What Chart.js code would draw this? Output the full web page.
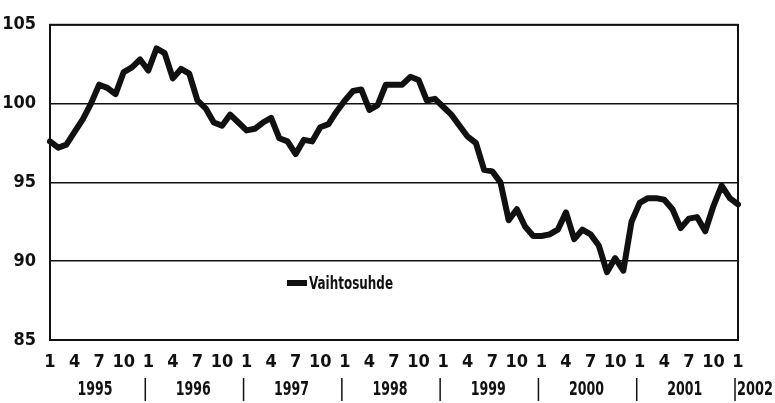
<!DOCTYPE html>
<html><head><meta charset="utf-8">
<script src="https://cdn.jsdelivr.net/npm/chart.js@4"></script>
<style>html,body{margin:0;padding:0;background:#fff}#wrap{width:775px;height:403px}</style>
</head><body><div id="wrap"><canvas id="c" width="775" height="403"></canvas></div>
<script>
// ---- data ----
const years = [1995, 1996, 1997, 1998, 1999, 2000, 2001, 2002];
const shownMonths = [1, 4, 7, 10];
const seriesName = 'Vaihtosuhde';
const yMin = 85, yMax = 105, yStep = 5;
const values = [
  97.6, 97.2, 97.4, 98.2, 99.0, 100.0, 101.2, 101.0, 100.6, 102.0, 102.3, 102.8,
  102.1, 103.5, 103.2, 101.6, 102.2, 101.9, 100.2, 99.7, 98.8, 98.6, 99.3, 98.8,
  98.3, 98.4, 98.8, 99.1, 97.8, 97.6, 96.8, 97.7, 97.6, 98.5, 98.7, 99.5,
  100.2, 100.8, 100.9, 99.6, 99.9, 101.2, 101.2, 101.2, 101.7, 101.5, 100.2, 100.3,
  99.8, 99.3, 98.6, 97.9, 97.5, 95.8, 95.7, 95.0, 92.6, 93.3, 92.2, 91.6,
  91.6, 91.7, 92.0, 93.1, 91.4, 92.0, 91.7, 91.0, 89.3, 90.2, 89.4, 92.5,
  93.7, 94.0, 94.0, 93.9, 93.3, 92.1, 92.7, 92.8, 91.9, 93.5, 94.8, 94.0,
  93.6
];

// categories: every month from Jan 1995 to Jan 2002
const categories = [];
years.forEach(y => {
  for (let m = 1; m <= 12; m++) {
    if (y === years[years.length - 1] && m > 1) break;
    categories.push({ year: y, month: m });
  }
});

const FONT = "'Liberation Sans Narrow','DejaVu Sans Condensed','Arial Narrow',sans-serif";
const INK = '#111';

const frameAndYears = {
  id: 'frameAndYears',
  afterDraw(chart) {
    const { ctx, chartArea: a, scales: { x } } = chart;
    ctx.save();
    ctx.strokeStyle = INK;
    ctx.lineWidth = 2;
    ctx.strokeRect(a.left, a.top, a.right - a.left, a.bottom - a.top);

    // year row
    ctx.fillStyle = INK;
    ctx.font = 'bold 20px ' + FONT;
    ctx.textBaseline = 'middle';
    const yRow = 390;
    years.forEach((yr, k) => {
      const startIdx = k * 12;
      if (k < years.length - 1) {
        ctx.textAlign = 'center';
        ctx.fillText(String(yr), x.getPixelForValue(startIdx + 5.5), yRow, 35);
      } else {
        ctx.textAlign = 'left';
        ctx.fillText(String(yr), x.getPixelForValue(startIdx) - 1, yRow, 36);
      }
      if (k > 0) {
        const px = x.getPixelForValue(startIdx) - 3;
        ctx.lineWidth = 1.5;
        ctx.beginPath();
        ctx.moveTo(px, 378);
        ctx.lineTo(px, 401);
        ctx.stroke();
      }
    });

    // legend inside plot
    const lx = 287, ly = 283;
    ctx.lineWidth = 6;
    ctx.beginPath();
    ctx.moveTo(lx, ly);
    ctx.lineTo(lx + 20, ly);
    ctx.stroke();
    ctx.font = 'bold 18px ' + FONT;
    ctx.textAlign = 'left';
    ctx.fillText(seriesName, lx + 22, ly + 1, 84);
    ctx.restore();
  }
};

new Chart(document.getElementById('c'), {
  type: 'line',
  data: {
    labels: categories.map(c => c.month),
    datasets: [{
      label: seriesName,
      data: values,
      borderColor: INK,
      borderWidth: 6,
      borderJoinStyle: 'round',
      borderCapStyle: 'round',
      pointRadius: 0,
      tension: 0,
      fill: false
    }]
  },
  options: {
    responsive: false,
    animation: false,
    devicePixelRatio: 1,
    layout: { padding: { top: 20, right: 37, bottom: 0, left: 0 } },
    plugins: { legend: { display: false }, tooltip: { enabled: false } },
    scales: {
      x: {
        type: 'category',
        offset: false,
        grid: { display: false, drawTicks: false },
        border: { display: true, color: INK, width: 2 },
        ticks: {
          autoSkip: false,
          maxRotation: 0,
          padding: 12,
          color: INK,
          font: { family: FONT, size: 18, weight: 'bold' },
          callback: (v, i) => shownMonths.includes(categories[i].month) ? String(categories[i].month) : ''
        },
        afterFit: s => { s.height = 63; }
      },
      y: {
        min: yMin, max: yMax,
        ticks: {
          stepSize: yStep,
          padding: 14,
          color: INK,
          font: { family: FONT, size: 18, weight: 'bold' }
        },
        grid: { color: INK, lineWidth: 1.5, drawTicks: false },
        border: { display: true, color: INK, width: 2 },
        afterFit: s => { s.width = 50; }
      }
    }
  },
  plugins: [frameAndYears]
});
</script>
</body></html>
